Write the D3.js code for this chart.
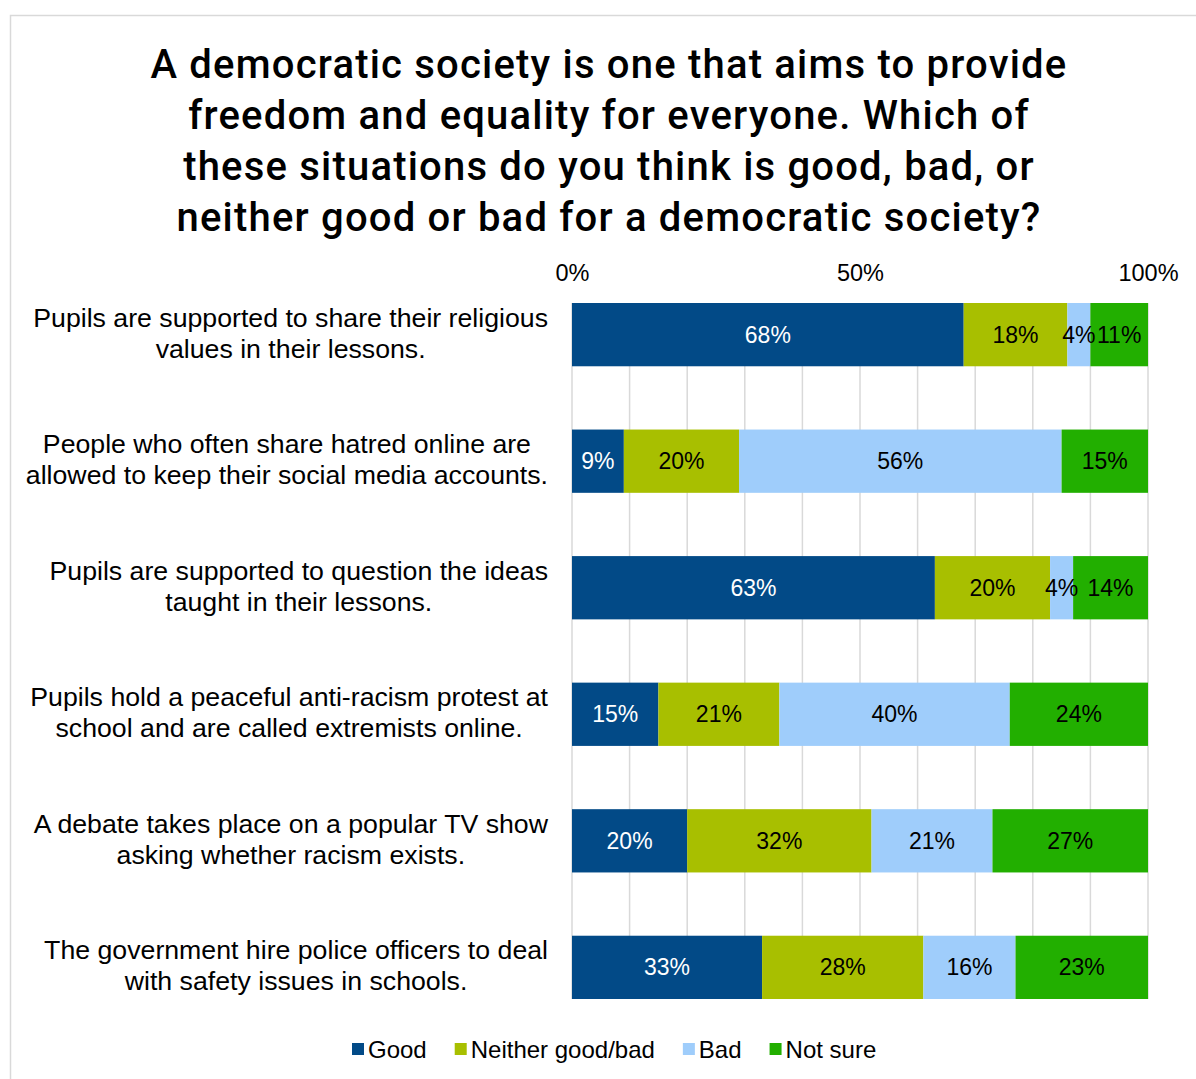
<!DOCTYPE html>
<html>
<head>
<meta charset="utf-8">
<script src="https://cdn.jsdelivr.net/npm/d3@7"></script>
<style>
  html, body { margin: 0; padding: 0; background: #fff; }
  svg { display: block; }
</style>
</head>
<body>
<svg id="chart" width="1196" height="1079"></svg>
<script>
// Survey statements (top to bottom)
const categories = [
  ["Pupils are supported to share their religious", "values in their lessons."],
  ["People who often share hatred online are", "allowed to keep their social media accounts."],
  ["Pupils are supported to question the ideas", "taught in their lessons."],
  ["Pupils hold a peaceful anti-racism protest at", "school and are called extremists online."],
  ["A debate takes place on a popular TV show", "asking whether racism exists."],
  ["The government hire police officers to deal", "with safety issues in schools."]
];

// Response shares, in percent, one value per statement
const seriesNames = ["Good", "Neither good/bad", "Bad", "Not sure"];
const good      = [68,  9, 63, 15, 20, 33];
const neither   = [18, 20, 20, 21, 32, 28];
const bad       = [ 4, 56,  4, 40, 21, 16];
const notSure   = [11, 15, 14, 24, 27, 23];

const tickValues = [0, 50, 100];
const tickLabels = ["0%", "50%", "100%"];

const titleLines = [
  "A democratic society is one that aims to provide",
  "freedom and equality for everyone. Which of",
  "these situations do you think is good, bad, or",
  "neither good or bad for a democratic society?"
];

const colors = ["#024a87", "#a8bf00", "#9fcdfb", "#22af00"];
const labelColors = ["#ffffff", "#000000", "#000000", "#000000"];

// ---- build rows for the stack ----
const seriesArrays = [good, neither, bad, notSure];
const rows = categories.map((c, i) => {
  const r = { idx: i };
  seriesNames.forEach((s, j) => { r[s] = seriesArrays[j][i]; });
  return r;
});

const stacked = d3.stack().keys(seriesNames)(rows);

const svg = d3.select("#chart");
const labelFont = "'Liberation Sans', Arial, sans-serif";

// outer frame
svg.append("rect")
  .attr("x", 10.5).attr("y", 15.5)
  .attr("width", 1300).attr("height", 1200)
  .attr("fill", "none").attr("stroke", "#d9d9d9").attr("stroke-width", 1.5);

// title
svg.append("g").attr("class", "title")
  .selectAll("text").data(titleLines).join("text")
  .attr("x", 609)
  .attr("y", (d, i) => 78 + i * 51)
  .attr("text-anchor", "middle")
  .attr("font-family", "Roboto, 'DejaVu Sans', sans-serif")
  .attr("font-weight", 500)
  .attr("font-size", 40)
  .attr("letter-spacing", 1.2)
  .attr("fill", "#000")
  .text(d => d);

// scales: rounded shares can total 101%, so the axis is capped at 100%
const x = d3.scaleLinear().domain([0, 100]).range([572, 1148]).clamp(true);
const y = d3.scaleBand().domain(d3.range(categories.length))
  .range([303, 999]).paddingInner(0.5).paddingOuter(0);

// gridlines every 10%
svg.append("g").attr("class", "grid")
  .selectAll("line").data(d3.range(0, 101, 10)).join("line")
  .attr("x1", d => x(d)).attr("x2", d => x(d))
  .attr("y1", 303).attr("y2", 999)
  .attr("stroke", "#d9d9d9").attr("stroke-width", 1.5);

// top value axis (labels only)
const axisTop = d3.axisTop(x).tickValues(tickValues)
  .tickFormat((d, i) => tickLabels[i]).tickSize(0).tickPadding(0);
const axisG = svg.append("g").attr("transform", "translate(0,281)").call(axisTop);
axisG.select(".domain").remove();
axisG.selectAll("text")
  .attr("font-family", labelFont).attr("font-size", 23.5).attr("fill", "#000")
  .attr("dy", 0);

// bars
svg.append("g").attr("class", "bars")
  .selectAll("g").data(stacked).join("g")
  .attr("fill", (d, i) => colors[i])
  .selectAll("rect").data(d => d).join("rect")
  .attr("x", d => x(d[0]))
  .attr("y", d => y(d.data.idx))
  .attr("width", d => x(d[1]) - x(d[0]))
  .attr("height", y.bandwidth());

// value labels, centred in each segment
const valueLabels = svg.append("g").attr("class", "values");
stacked.forEach((layer, si) => {
  valueLabels.append("g").selectAll("text").data(layer).join("text")
    .attr("x", d => (x(d[0]) + x(d[1])) / 2)
    .attr("y", d => y(d.data.idx) + y.bandwidth() / 2 + 8)
    .attr("text-anchor", "middle")
    .attr("font-family", labelFont)
    .attr("font-size", 23)
    .attr("fill", labelColors[si])
    .text(d => d.data[layer.key] + "%");
});

// category labels: two centred lines, block right-aligned against the axis
const catG = svg.append("g").attr("class", "categories");
categories.forEach((lines, i) => {
  const texts = catG.append("g").selectAll("text").data(lines).join("text")
    .attr("font-family", labelFont)
    .attr("font-size", 26.7)
    .attr("fill", "#000")
    .attr("text-anchor", "middle")
    .attr("y", (d, k) => y(i) + y.bandwidth() / 2 + (k === 0 ? -15.5 : 15.5) + 7.5)
    .text(d => d);
  let maxW = 0;
  texts.each(function () { maxW = Math.max(maxW, this.getComputedTextLength()); });
  texts.attr("x", 548 - maxW / 2);
});

// legend
const legend = svg.append("g").attr("class", "legend");
let lx = 352;
seriesNames.forEach((name, i) => {
  legend.append("rect")
    .attr("x", lx).attr("y", 1043).attr("width", 12).attr("height", 12)
    .attr("fill", colors[i]);
  const t = legend.append("text")
    .attr("x", lx + 16).attr("y", 1057.5)
    .attr("font-family", labelFont).attr("font-size", 24).attr("fill", "#000")
    .text(name);
  lx += 16 + t.node().getComputedTextLength() + 28;
});
</script>
</body>
</html>
